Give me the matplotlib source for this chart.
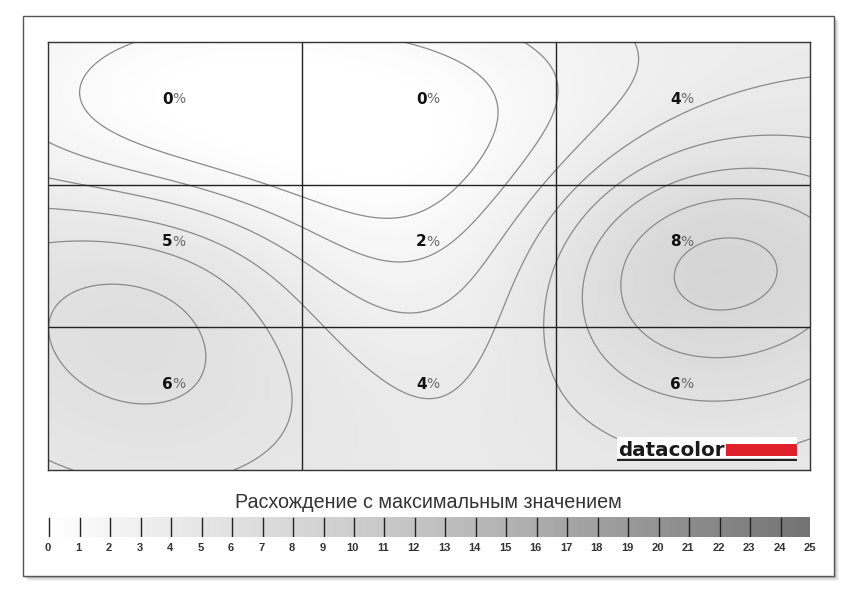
import numpy as np
import matplotlib
matplotlib.use("Agg")
import matplotlib.pyplot as plt
from matplotlib.colors import LinearSegmentedColormap
from matplotlib.patches import Rectangle

# ---------------- data ----------------
cell_values = [[0, 0, 4],
               [5, 2, 8],
               [6, 4, 6]]          # % deviation, top row first
scale_ticks = list(range(0, 26))
scale_title = "Расхождение с максимальным значением"
contour_levels = list(range(1, 25))
brand = "datacolor"

W, H = 854, 600
fig = plt.figure(figsize=(W / 100, H / 100), dpi=100)
fig.patch.set_facecolor("white")

def fx(px):
    return px / W

def fy(py):
    return 1 - py / H

# panel with shadow
for i, a in enumerate([0.10, 0.08, 0.06, 0.04]):
    off = 2 + i
    fig.patches.append(Rectangle((fx(23 + off), fy(576 + off)), fx(811), (576 - 16) / H,
                                 transform=fig.transFigure, facecolor="black", alpha=a,
                                 edgecolor="none", zorder=-3))
fig.patches.append(Rectangle((fx(23), fy(576)), fx(811), (576 - 16) / H,
                             transform=fig.transFigure, facecolor="white",
                             edgecolor="#555555", linewidth=1.0, zorder=-2))

cmap = LinearSegmentedColormap.from_list(
    "dev", [(0.0, "#ffffff"), (0.24, "#e1e1e1"), (0.5, "#c2c2c2"),
            (0.75, "#9c9c9c"), (1.0, "#737373")])

# ---------------- map ----------------
ax = fig.add_axes([fx(48), fy(470), fx(810) - fx(48), fy(42) - fy(470)])
vals = np.array(cell_values, dtype=float)
cx, cy = np.meshgrid([0.5, 1.5, 2.5], [0.5, 1.5, 2.5])
px, py, pv = cx.ravel(), cy.ravel(), vals.ravel()
s = 0.9
mean = pv.mean()
K = np.exp(-((px[:, None] - px[None, :]) ** 2 + (py[:, None] - py[None, :]) ** 2) / s ** 2)
w = np.linalg.solve(K, pv - mean)
gx, gy = np.meshgrid(np.linspace(0, 3, 400), np.linspace(0, 3, 300))
Z = mean + sum(w[k] * np.exp(-((gx - px[k]) ** 2 + (gy - py[k]) ** 2) / s ** 2) for k in range(9))
Z = np.clip(Z, vals.min() - 0.3, vals.max() + 0.4)
ax.imshow(Z, extent=[0, 3, 3, 0], cmap=cmap, vmin=0, vmax=25, aspect="auto",
          interpolation="bilinear", zorder=0)
ax.contour(gx, gy, Z, levels=contour_levels, colors="#8a8a8a", linewidths=0.9, zorder=1)
for v in [1, 2]:
    ax.axvline(v, color="#222222", lw=1.0, zorder=2)
    ax.axhline(v, color="#222222", lw=1.0, zorder=2)
ax.set_xlim(0, 3)
ax.set_ylim(3, 0)
ax.set_xticks([])
ax.set_yticks([])
for sp in ax.spines.values():
    sp.set_color("#333333")
    sp.set_linewidth(1.0)

for r in range(3):
    for c in range(3):
        ax.text(c + 0.49, r + 0.4, f"{cell_values[r][c]}", ha="right", va="center",
                fontsize=11, fontweight="bold", family="DejaVu Sans", color="#111111", zorder=3)
        ax.text(c + 0.49, r + 0.4, "%", ha="left", va="center",
                fontsize=10, family="DejaVu Sans", color="#6a6a6a", zorder=3)

# logo
lx0, lx1, ly0, ly1 = 617, 797, 437, 458
ax_logo = fig.add_axes([fx(lx0), fy(ly1 + 3), fx(lx1) - fx(lx0), (ly1 + 3 - ly0) / H])
ax_logo.set_xlim(lx0, lx1)
ax_logo.set_ylim(ly1 + 3, ly0)
ax_logo.axis("off")
ax_logo.add_patch(Rectangle((lx0, ly0), lx1 - lx0, ly1 - ly0, facecolor="white", edgecolor="none"))
ax_logo.add_patch(Rectangle((726, 444), 797 - 726, 12, facecolor="#e0202a", edgecolor="none"))
ax_logo.plot([lx0, lx1], [459.5, 459.5], color="#222222", lw=1.6, solid_capstyle="butt")
ax_logo.text(lx0 + 1, 456.5, brand, ha="left", va="baseline", fontsize=14.3,
             fontweight="bold", family="DejaVu Sans", color="#1a1a1a")

# ---------------- scale ----------------
bx = fig.add_axes([fx(48), fy(537), fx(810) - fx(48), (537 - 517) / H])
grad = np.linspace(0, 25, 1000)[None, :]
bx.imshow(grad, extent=[0, 25, 0, 1], cmap=cmap, vmin=0, vmax=25, aspect="auto")
for t in scale_ticks[:-1]:
    bx.plot([t + 0.04, t + 0.04], [0.05, 0.95], color="#222222", lw=1.0)
bx.set_xlim(0, 25)
bx.set_ylim(0, 1)
bx.axis("off")
for t in scale_ticks:
    bx.text(t, -0.3, str(t), ha="center", va="top", fontsize=8, fontweight="bold",
            family=["Liberation Sans Narrow", "Liberation Sans"], color="#333333",
            transform=bx.transData)

tt = fig.text(fx(428), fy(508), scale_title, ha="center", va="baseline",
              fontsize=13, family="Liberation Sans", color="#333333")
fig.canvas.draw()
bb = tt.get_window_extent()
tt.set_fontsize(13 * 385 / bb.width)

fig.savefig("out.png", dpi=100, facecolor="white")
